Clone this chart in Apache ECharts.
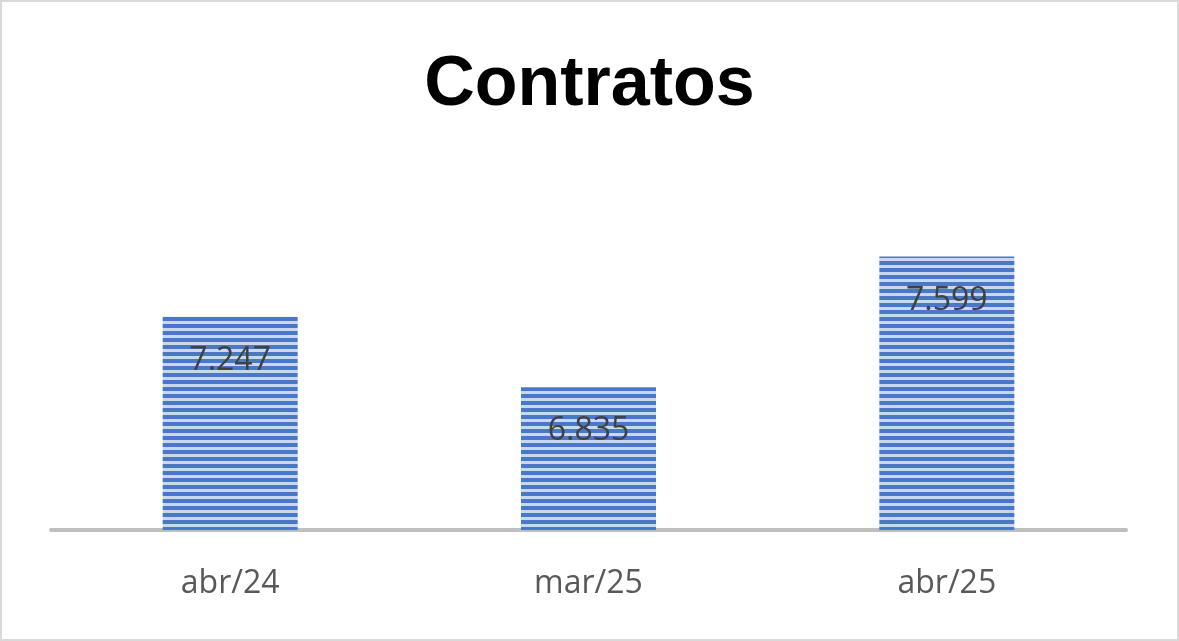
<!DOCTYPE html><html><head><meta charset="utf-8"><script src="https://cdn.jsdelivr.net/npm/echarts@6/dist/echarts.min.js"></script>
<style>html,body{margin:0;padding:0;background:#fff}#c{width:1179px;height:641px;box-sizing:border-box;border:2px solid #d9d9d9}</style></head><body><div id="c"></div><script>
const categories=['abr/24','mar/25','abr/25'];
const values=[7247,6835,7599];
const cv=document.createElement('canvas');cv.width=8;cv.height=7;
const g=cv.getContext('2d');g.fillStyle='#c9d7ef';g.fillRect(0,0,8,7);g.fillStyle='#4a78c8';g.fillRect(0,0,8,4);
const ch=echarts.init(document.getElementById('c'));
ch.setOption({
 title:{text:'Contratos',left:'center',top:44,textStyle:{fontFamily:'Liberation Sans',fontWeight:'bold',fontSize:70,color:'#000'}},
 grid:{left:49,right:51,top:186,bottom:109},
 xAxis:{type:'category',data:categories,axisLine:{lineStyle:{color:'#bfbfbf',width:4}},axisTick:{show:false},
   axisLabel:{fontSize:32,color:'#595959',margin:38,fontFamily:'Open Sans'}},
 yAxis:{type:'value',min:6000,max:8000,show:false,splitLine:{show:false}},
 series:[{type:'bar',data:values,barWidth:135,itemStyle:{color:{image:cv,repeat:'repeat'}},
   label:{show:true,position:'insideTop',distance:28,fontSize:32,color:'#404040',fontFamily:'Open Sans',
     formatter:p=>String(p.value).replace(/\B(?=(\d{3})+$)/g,'.')}}]
});
</script></body></html>
